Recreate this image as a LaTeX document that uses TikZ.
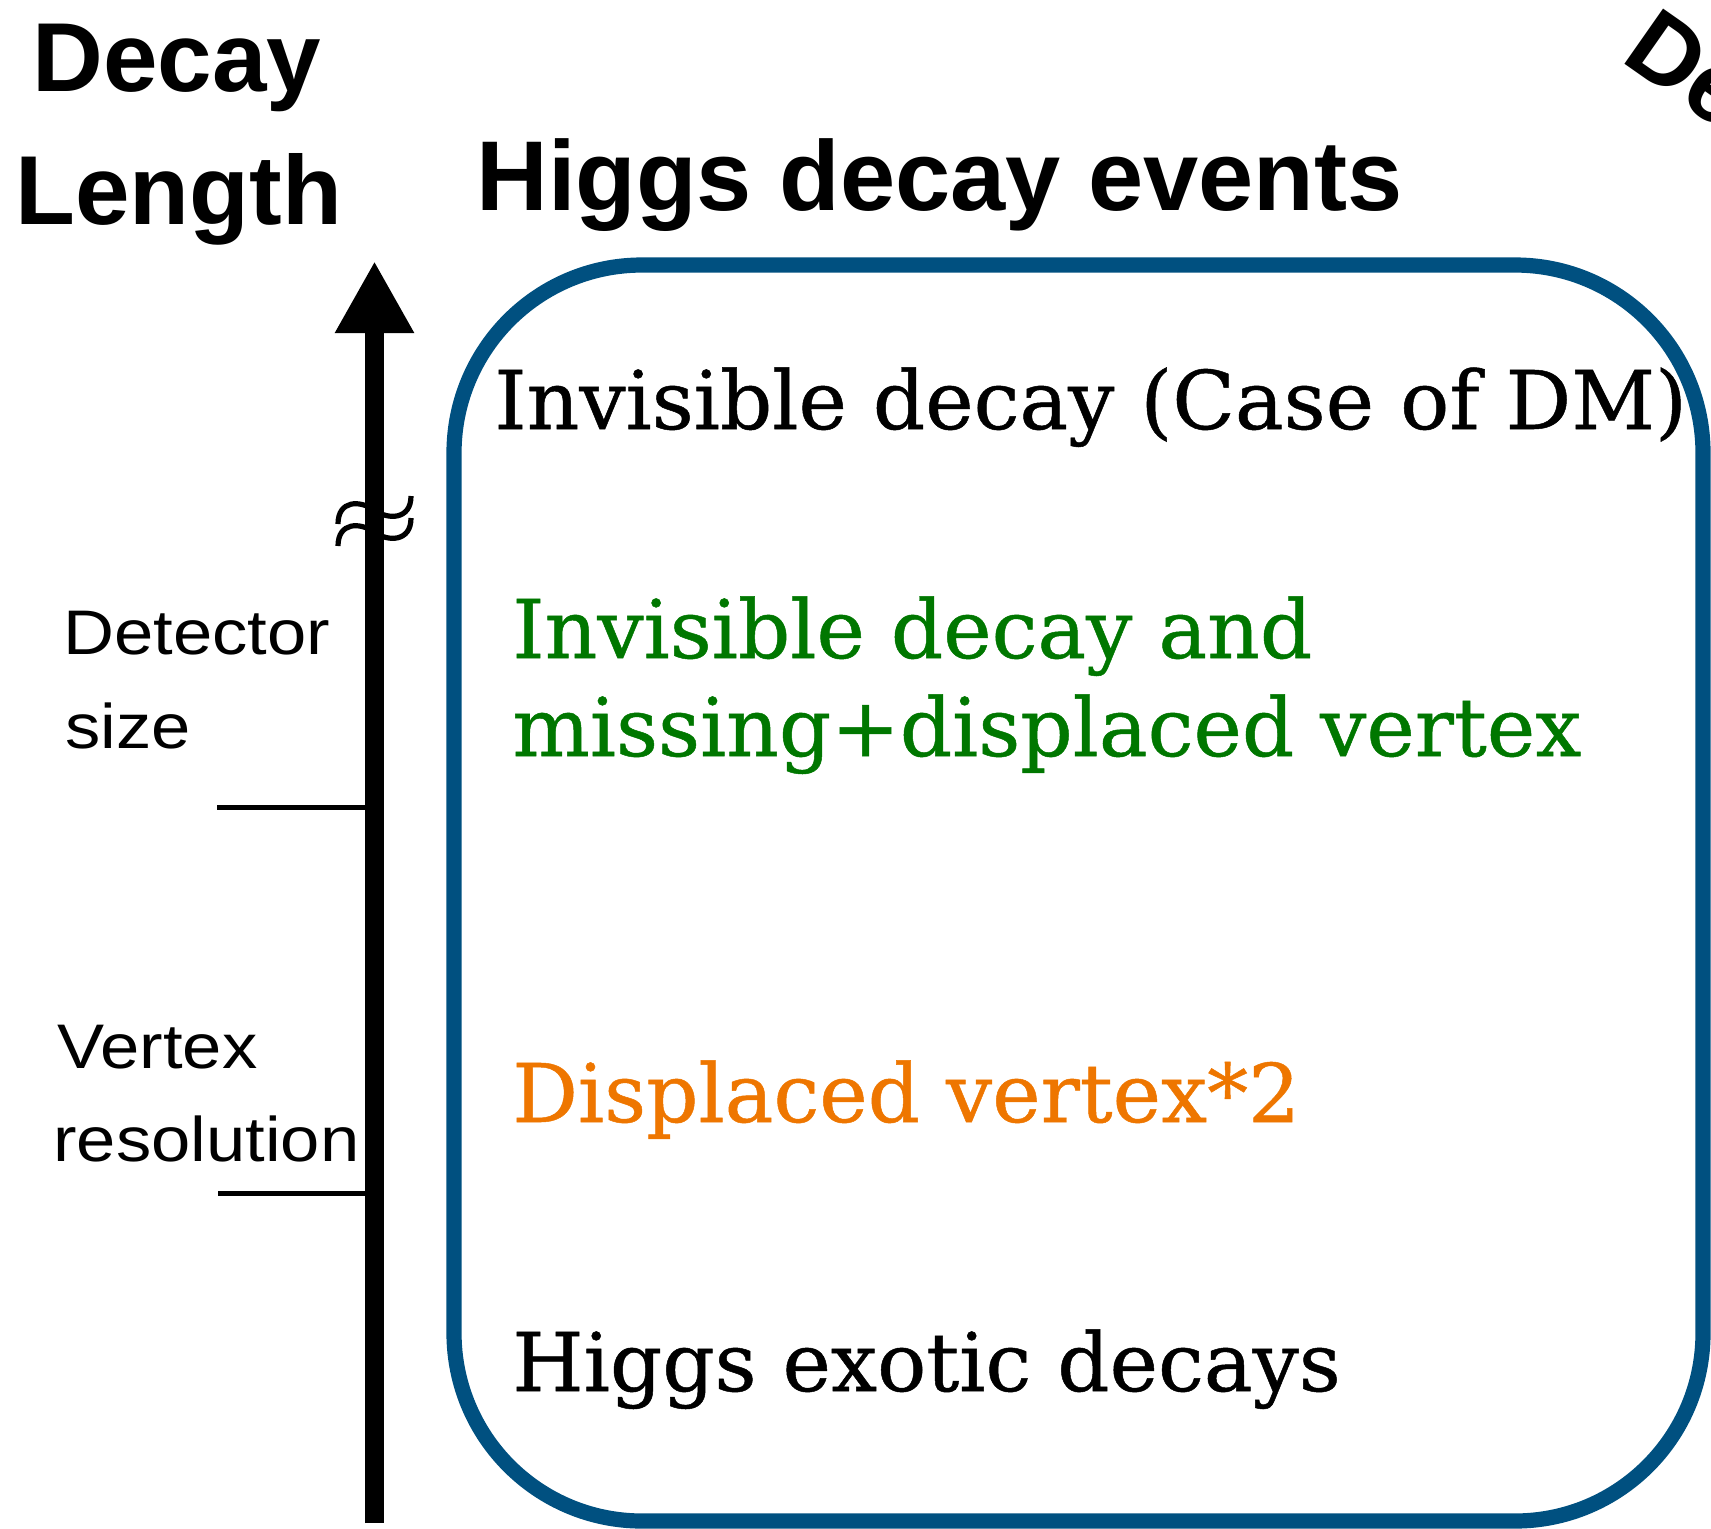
\documentclass[tikz,border=0pt]{standalone}
\usepackage{fontspec}
\usetikzlibrary{arrows.meta}
\newfontfamily\twfont[FakeStretch=1.01, FakeBold=0.6]{DejaVu Serif}
\newfontfamily\hsans{Liberation Sans}
\newfontfamily\lsans[FakeStretch=1.12]{Liberation Sans}
\definecolor{boxblue}{RGB}{0,80,128}
\definecolor{dgreen}{RGB}{0,119,0}
\definecolor{dorange}{RGB}{238,118,0}
\tikzset{
  title/.style={inner sep=0pt, font=\hsans\bfseries\fontsize{49}{59}\selectfont, anchor=base west},
  evtext/.style={inner sep=0pt, font=\twfont\fontsize{40.5}{49}\selectfont, anchor=base west},
  sidelabel/.style={inner sep=0pt, font=\lsans\fontsize{31.5}{38}\selectfont, anchor=base west},
  tickline/.style={line width=2.5pt},
  approx/.style={line width=2.6pt},
}
\begin{document}
\begin{tikzpicture}[x=0.5pt,y=-0.5pt]
\clip (0,0) rectangle (1711,1528);
% titles
\node[title] (t1) at (32,91) {Decay};
\node[title] (t2) at (15,224) {Length};
\node[title, font=\hsans\bfseries\fontsize{49.6}{59}\selectfont] (t3) at (476,210) {Higgs decay events};
\node[title, rotate=-35] (t4) at (1619,60) {De};
% event box
\draw[boxblue, line width=7.6pt, rounded corners=94pt] (454,265) rectangle (1703,1521);
\node[evtext] (e1) at (494,429) {Invisible decay (Case of DM)};
\node[evtext, text=dgreen] (e2) at (512,658) {Invisible decay and};
\node[evtext, text=dgreen] (e3) at (512,756) {missing+displaced vertex};
\node[evtext, text=dorange] (e4) at (512,1122) {Displaced vertex*2};
\node[evtext] (e5) at (512,1391) {Higgs exotic decays};
% side labels
\node[sidelabel] (s1) at (63,654) {Detector};
\node[sidelabel] (s2) at (65,748) {size};
\node[sidelabel] (s3) at (57,1068) {Vertex};
\node[sidelabel] (s4) at (53,1161) {resolution};
% approx sign
\draw[approx] (338,524) .. controls (338,500) and (360,500) .. (374,510) .. controls (388,520) and (411,520) .. (411,496);
\draw[approx] (338,546) .. controls (338,522) and (360,522) .. (374,532) .. controls (388,542) and (411,542) .. (411,518);
% axis
\coordinate (axbot) at (374.5,1523);
\coordinate (axtop) at (374.5,261);
\coordinate (tick1a) at (217,807);
\coordinate (tick1b) at (374.5,807);
\coordinate (tick2a) at (218,1193);
\coordinate (tick2b) at (374.5,1193);
\draw[tickline] (tick1a) -- (tick1b);
\draw[tickline] (tick2a) -- (tick2b);
\draw[line width=9.5pt, -{Triangle[length=36pt, width=37pt]}] (axbot) -- (axtop);
\end{tikzpicture}
\end{document}
